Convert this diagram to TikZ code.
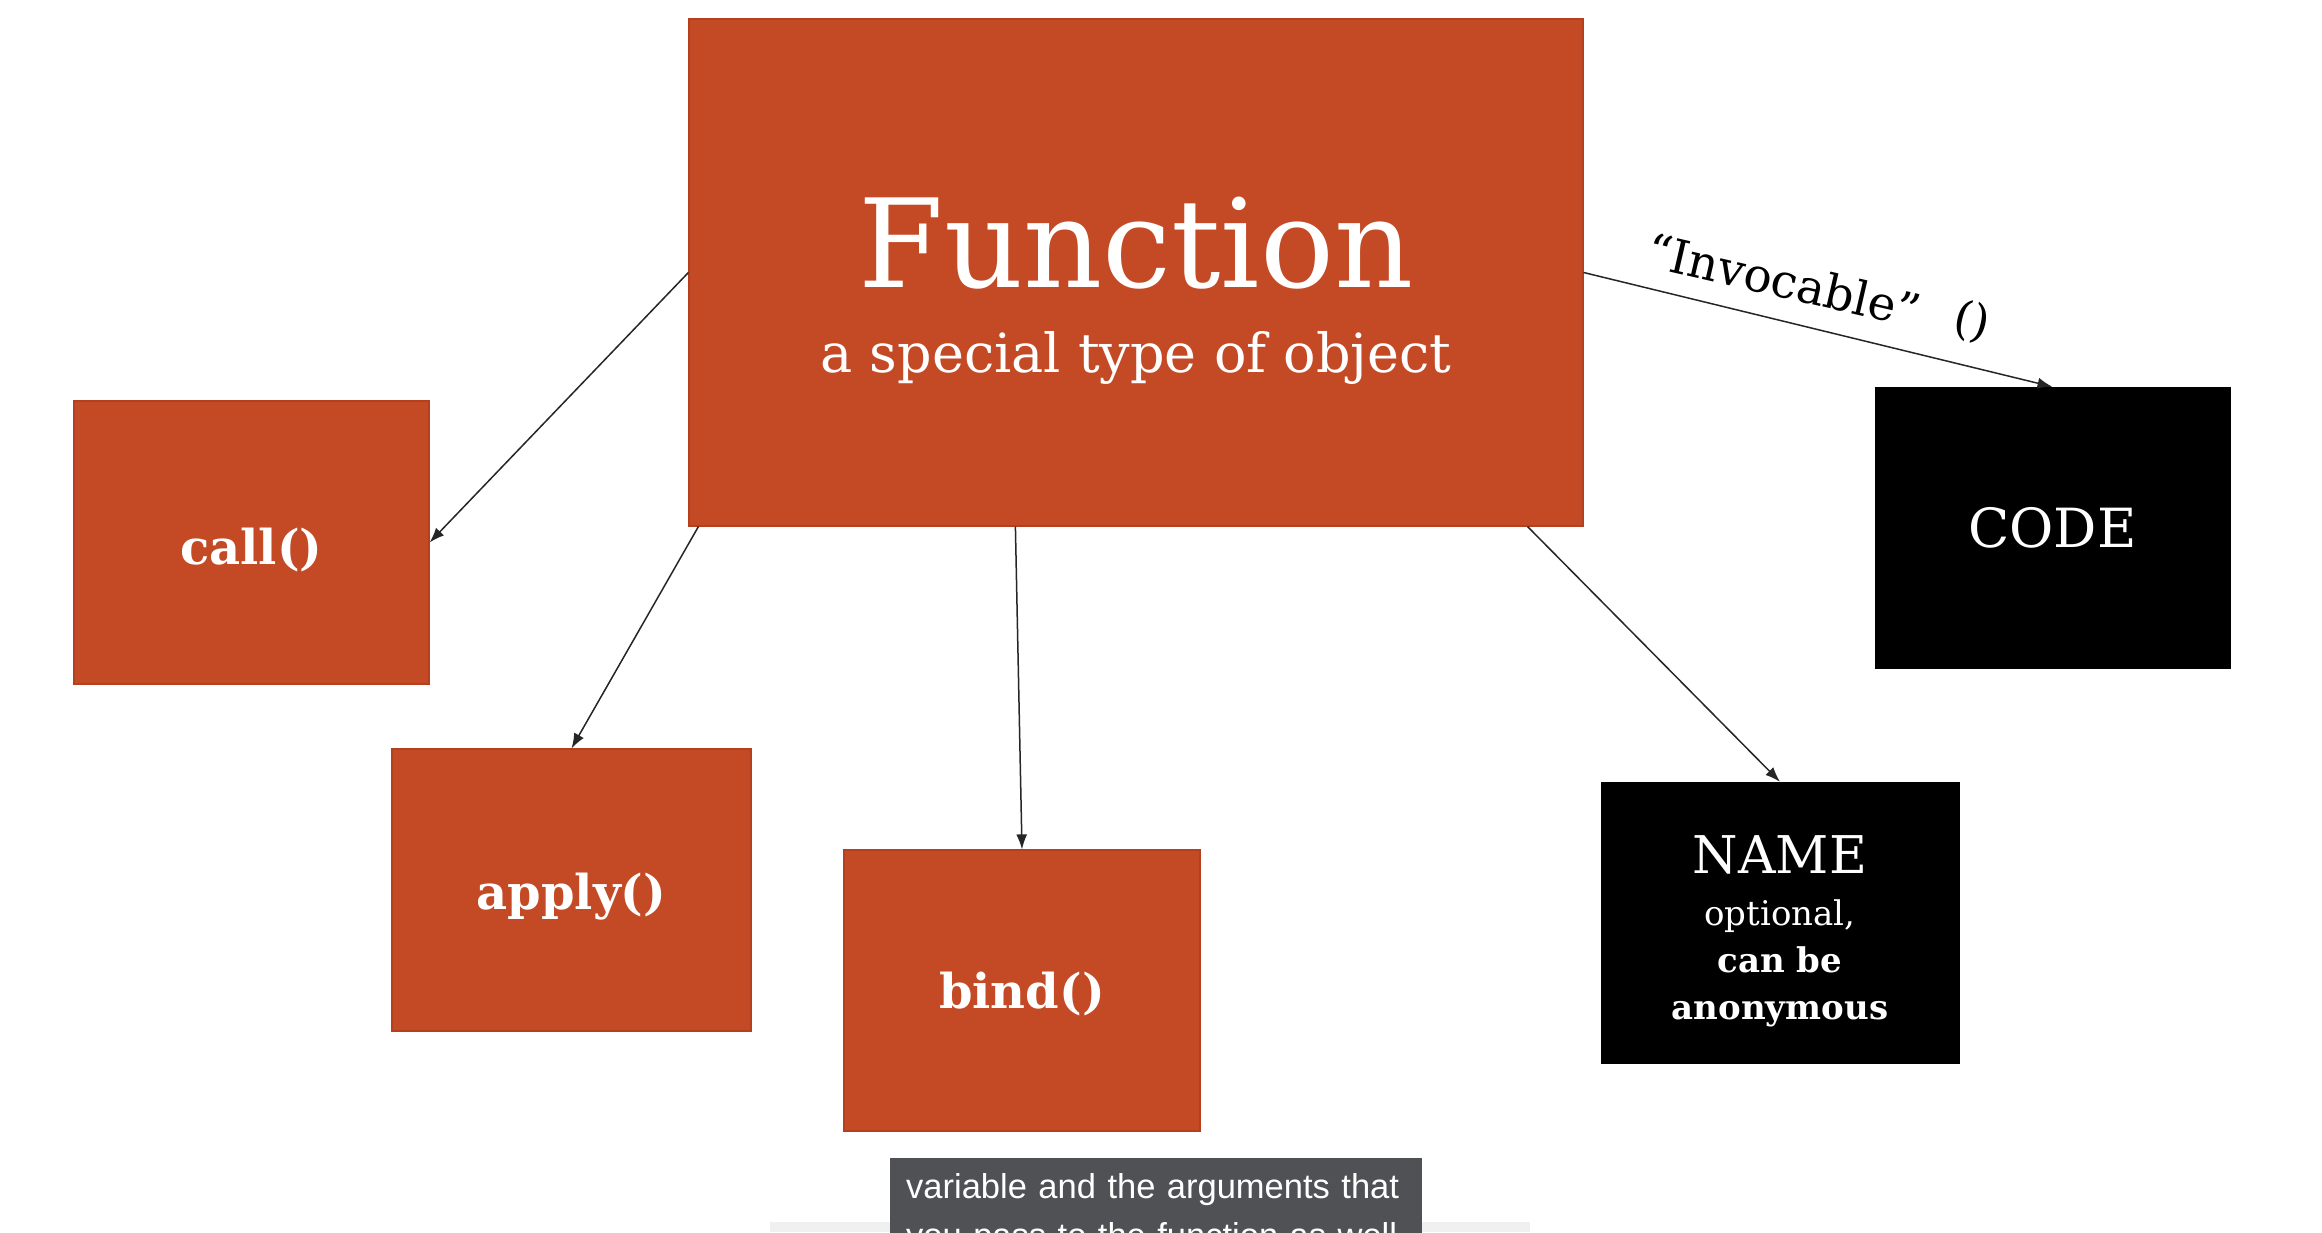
\documentclass[tikz,border=0pt]{standalone}
\usepackage{fontspec}
\setmainfont{DejaVu Serif}
\newfontfamily\capfont{Liberation Sans}
\usetikzlibrary{arrows.meta,calc}
\definecolor{rust}{HTML}{C44A26}
\definecolor{rustedge}{HTML}{B5401F}
\definecolor{capgray}{HTML}{505155}
\tikzset{
  obox/.style={draw=rustedge,line width=1.2pt,fill=rust,text=white,inner sep=0pt,align=center},
  bbox/.style={draw=black,fill=black,text=white,inner sep=0pt,align=center},
  conn/.style={draw=black!85,line width=1.5pt,-{Latex[length=15pt,width=11pt]}},
  boxlbl/.style={text=white,font=\fontsize{48}{52}\selectfont\bfseries},
}
\begin{document}
\begin{tikzpicture}[x=1pt,y=-1pt]
\useasboundingbox[fill=white] (0,0) rectangle (2322,1232);
\clip (0,0) rectangle (2322,1232);
% boxes
\node[obox,minimum width=894pt,minimum height=507pt] (fn) at (1136,272.5) {};
\node[text=white,font=\fontsize{123}{126}\selectfont] (fntitle) at (1136,243) {Function};
\node[text=white,font=\fontsize{54}{58}\selectfont] (fnsub) at (1136,358) {a special type of object};
\node[obox,minimum width=355pt,minimum height=283pt] (call) at (251.5,542.5) {};
\node[boxlbl] (calltxt) at (251.5,550) {call()};
\node[obox,minimum width=359pt,minimum height=282pt] (apply) at (571.5,890) {};
\node[boxlbl] (applytxt) at (571.5,897) {apply()};
\node[obox,minimum width=356pt,minimum height=281pt] (bind) at (1022,990.5) {};
\node[boxlbl] (bindtxt) at (1022,994) {bind()};
\node[bbox,minimum width=355pt,minimum height=281pt,font=\fontsize{54}{58}\selectfont] (code) at (2052.5,527.5) {CODE};
\node[bbox,minimum width=358pt,minimum height=281pt] (name) at (1780,922.5) {};
\node[text=white,font=\fontsize{52}{56}\selectfont] (nametitle) at (1780,855) {NAME};
\node[text=white,align=center,font=\fontsize{34}{47}\selectfont] (namesub) at (1780,963) {optional,\\\textbf{can be}\\\textbf{anonymous}};
% connectors
\draw[conn] (fn.west) -- (call.east);
\draw[conn] ($(fn.south west)+(10,0)$) -- (apply.north);
\draw[conn] ($(fn.south west)+(327,0)$) -- (bind.north);
\draw[conn] ($(fn.south east)+(-56,0)$) -- (name.north);
\draw[conn] (fn.east) -- (code.north);
% label
\node[rotate=-13,font=\fontsize{47}{50}\selectfont,inner sep=0pt] (invlbl) at (1784,280) {“Invocable”};
\node[rotate=-13,font=\fontsize{46}{50}\selectfont,inner sep=0pt] (parens) at (1972,322) {()};
% caption
\fill[black!6] (770,1222) rectangle (1530,1232);
\node[fill=capgray,text=white,anchor=north west,inner xsep=16pt,inner ysep=15pt,text width=500pt,align=left,font=\capfont\fontsize{34.5}{49}\selectfont] (caption) at (890,1158) {variable and the arguments that\\you pass to the function as well};
\end{tikzpicture}
\end{document}
